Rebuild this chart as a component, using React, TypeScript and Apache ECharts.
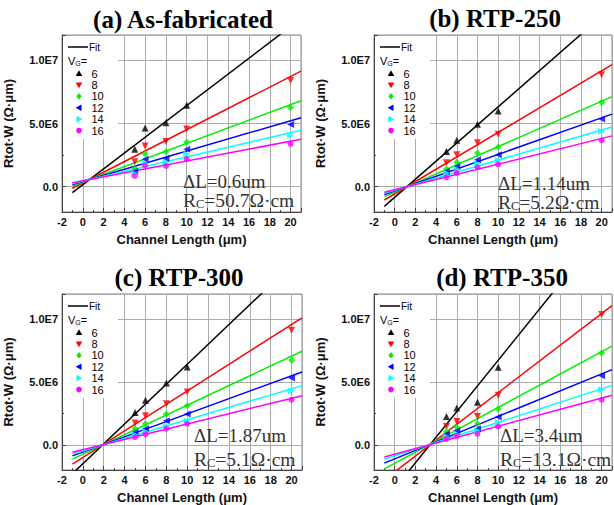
import React, { useEffect, useRef } from "react";
import * as echarts from "echarts";

const SANS = '"Liberation Sans", Arial, sans-serif';
const SERIF = '"Liberation Serif", "Times New Roman", serif';
const UNIT = 1e6;

// ---- data ----
const channelLength = [5, 6, 8, 10, 20];
const fitRange = [-1, 21];
const vgLabels = ["6", "8", "10", "12", "14", "16"];
const panelTitles = ["(a) As-fabricated", "(b) RTP-250", "(c) RTP-300", "(d) RTP-350"];
const deltaL = ["0.6", "1.14", "1.87", "3.4"];
const contactR = ["50.7", "5.2", "5.1", "13.1"];
const yTickValues = [0, 5e6, 1e7];
const yTickLabels = ["0.0", "5.0E6", "1.0E7"];

// values in units of 1e6 Ω·µm, one row per V_G (6, 8, 10, 12, 14, 16)
const asFabPoints = [
  [2.96, 4.65, 5.05, 6.45, null],
  [1.98, 3.22, 3.58, 4.57, 8.41],
  [1.45, 2.6, 2.77, 3.52, 6.26],
  [1.2, 2.17, 2.23, 2.96, 4.92],
  [1.04, 1.88, 1.96, 2.58, 4.03],
  [0.85, 1.68, 1.64, 2.18, 3.39],
];
const asFabFit = [
  [-0.47, 13.3],
  [-0.12, 9.14],
  [0.06, 6.8],
  [0.18, 5.46],
  [0.26, 4.46],
  [0.32, 3.76],
];
const rtp250Points = [
  [2.79, 3.67, 4.95, 5.98, null],
  [1.89, 2.53, 3.48, 4.15, 8.86],
  [1.41, 1.94, 2.66, 3.14, 6.68],
  [1.2, 1.6, 2.13, 2.53, 5.35],
  [1.09, 1.41, 1.81, 2.07, 4.39],
  [0.74, 1.09, 1.54, 1.76, 3.67],
];
const rtp250Fit = [
  [-1.55, 14.2],
  [-1.05, 9.65],
  [-0.78, 7.13],
  [-0.62, 5.74],
  [-0.51, 4.73],
  [-0.44, 4.02],
];
const rtp300Points = [
  [2.58, 3.54, 4.92, 6.2, null],
  [1.73, 2.31, 3.27, 4.2, 9.12],
  [1.28, 1.68, 2.45, 3.11, 6.73],
  [1.01, 1.28, 1.91, 2.45, 5.32],
  [0.8, 1.06, 1.46, 1.91, 4.31],
  [0.61, 0.85, 1.28, 1.68, 3.59],
];
const rtp300Fit = [
  [-2.29, 15.1],
  [-1.53, 10.1],
  [-1.13, 7.45],
  [-0.88, 5.8],
  [-0.72, 4.71],
  [-0.59, 3.91],
];
const rtp350Points = [
  [2.26, 2.93, 3.38, 6.17, null],
  [1.46, 1.86, 2.26, 3.94, 10.37],
  [1.06, 1.41, 1.68, 2.85, 7.31],
  [0.85, 1.12, 1.28, 2.21, 5.5],
  [0.66, 0.88, 1.12, 1.78, 4.39],
  [0.48, 0.72, 0.88, 1.46, 3.59],
];
const rtp350Fit = [
  [-4.49, 17.95],
  [-2.78, 11.08],
  [-1.91, 7.85],
  [-1.45, 5.98],
  [-1.15, 4.73],
  [-0.96, 3.94],
];

// ---- styling / layout ----
const colors = ["#000000", "#ff0000", "#00ee00", "#0000ff", "#00ffff", "#ff00ff"];
const symbols = ["triangle", "triangle", "diamond", "triangle", "triangle", "circle"];
const rotations = [0, 180, 0, 90, -90, 0];
const grids = [
  { left: 62, top: 35, width: 239, height: 177 },
  { left: 374, top: 35, width: 238, height: 177 },
  { left: 62, top: 294, width: 240, height: 177 },
  { left: 374, top: 294, width: 238, height: 177 },
];
const titlePos = [[183, 19], [495, 18], [179, 277], [502, 277]];
const notePos = [
  [183, 181.5, 199.5],
  [498, 183.3, 201.7],
  [194, 435, 458],
  [500, 435, 458],
];

const pointsByPanel = [asFabPoints, rtp250Points, rtp300Points, rtp350Points];
const fitByPanel = [asFabFit, rtp250Fit, rtp300Fit, rtp350Fit];

function legendSymbol(k: number, cx: number, cy: number, color: string): any {
  const s = 3.3;
  if (k === 5) return { type: "circle", shape: { cx, cy, r: 2.8 }, style: { fill: color }, z: 7 };
  let pts: number[][];
  if (k === 0) pts = [[cx, cy - s], [cx + s, cy + s * 0.75], [cx - s, cy + s * 0.75]];
  else if (k === 1) pts = [[cx, cy + s], [cx + s, cy - s * 0.75], [cx - s, cy - s * 0.75]];
  else if (k === 2) pts = [[cx, cy - s], [cx + s * 0.8, cy], [cx, cy + s], [cx - s * 0.8, cy]];
  else if (k === 3) pts = [[cx - s, cy], [cx + s * 0.75, cy - s], [cx + s * 0.75, cy + s]];
  else pts = [[cx + s, cy], [cx - s * 0.75, cy - s], [cx - s * 0.75, cy + s]];
  return { type: "polygon", shape: { points: pts }, style: { fill: color }, z: 7 };
}

function buildOption() {
  const xAxis: any[] = [];
  const yAxis: any[] = [];
  const series: any[] = [];
  const graphic: any[] = [];
  const labelStyle = { fontFamily: SANS, fontWeight: "bold", fontSize: 11, color: "#111" };
  const nameStyle = { fontFamily: SANS, fontWeight: "bold", fontSize: 13, color: "#111" };

  grids.forEach((g, i) => {
    xAxis.push({
      gridIndex: i,
      type: "value",
      min: -2,
      max: 21,
      interval: 2,
      axisLine: { show: true, onZero: false, lineStyle: { color: "#444", width: 1 } },
      axisTick: { show: true, inside: true, length: 4, lineStyle: { color: "#444" } },
      minorTick: { show: true, splitNumber: 2, length: 2, lineStyle: { color: "#444" } },
      splitLine: { show: true, lineStyle: { color: "#ababab", width: 1 } },
      axisLabel: { ...labelStyle, margin: 4, showMaxLabel: false, showMinLabel: true },
      name: "Channel Length (μm)",
      nameLocation: "middle",
      nameGap: 21,
      nameTextStyle: nameStyle,
    });
    yAxis.push({
      gridIndex: i,
      type: "value",
      min: -2e6,
      max: 1.2e7,
      splitNumber: 3,
      minInterval: 5e6,
      maxInterval: 5e6,
      axisLine: { show: true, onZero: false, lineStyle: { color: "#444", width: 1 } },
      axisTick: { show: true, inside: true, length: 4, lineStyle: { color: "#444" } },
      minorTick: { show: true, splitNumber: 2, length: 2, lineStyle: { color: "#444" } },
      splitLine: { show: true, lineStyle: { color: "#ababab", width: 1 } },
      axisLabel: {
        ...labelStyle,
        margin: 4,
        showMinLabel: false,
        showMaxLabel: false,
        formatter: (v: number) => {
          const idx = yTickValues.findIndex((t) => Math.abs(t - v) < 1);
          return idx >= 0 ? yTickLabels[idx] : "";
        },
      },
      name: "Rtot·W (Ω·μm)",
      nameLocation: "middle",
      nameGap: 47,
      nameTextStyle: nameStyle,
    });

    const pts = pointsByPanel[i];
    const fits = fitByPanel[i];
    vgLabels.forEach((vg, k) => {
      series.push({
        type: "line",
        name: "fit" + vg,
        xAxisIndex: i,
        yAxisIndex: i,
        data: fitRange.map((x, j) => [x, fits[k][j] * UNIT]),
        symbol: "none",
        showSymbol: false,
        clip: true,
        lineStyle: { color: colors[k], width: 1.5 },
        z: 2,
      });
      series.push({
        type: "scatter",
        name: vg,
        xAxisIndex: i,
        yAxisIndex: i,
        data: channelLength
          .map((x, j) => (pts[k][j] == null ? null : [x, (pts[k][j] as number) * UNIT]))
          .filter((d) => d !== null),
        symbol: symbols[k],
        symbolRotate: rotations[k],
        symbolSize: k === 5 ? 6 : 7,
        itemStyle: { color: colors[k] },
        z: 3,
      });
    });

    // title
    graphic.push({
      type: "text",
      x: titlePos[i][0],
      y: titlePos[i][1],
      z: 10,
      style: {
        text: panelTitles[i],
        font: `bold 25px ${SERIF}`,
        fill: "#000",
        textAlign: "center",
        textVerticalAlign: "middle",
        align: "center",
        verticalAlign: "middle",
      },
    });
    // annotations
    graphic.push({
      type: "text",
      x: notePos[i][0],
      y: notePos[i][1],
      z: 10,
      style: {
        text: `ΔL=${deltaL[i]}um`,
        font: `19px ${SERIF}`,
        fill: "#333",
        textAlign: "left",
        textVerticalAlign: "middle",
        align: "left",
        verticalAlign: "middle",
      },
    });
    graphic.push({
      type: "text",
      x: notePos[i][0],
      y: notePos[i][2],
      z: 10,
      style: {
        text: `{m|R}{s|C}{m|=${contactR[i]}Ω·cm}`,
        fill: "#333",
        textAlign: "left",
        textVerticalAlign: "middle",
        align: "left",
        verticalAlign: "middle",
        rich: {
          m: { fontFamily: SERIF, fontSize: 19.5, lineHeight: 22, verticalAlign: "bottom", fill: "#333", color: "#333" },
          s: { fontFamily: SERIF, fontSize: 12.5, lineHeight: 11, verticalAlign: "bottom", fill: "#333", color: "#333" },
        },
      },
    });

    // legend
    const gx = g.left;
    const gy = g.top;
    graphic.push({
      type: "rect",
      shape: { x: gx + 1, y: gy + 1, width: 55, height: 103 },
      style: { fill: "#ffffff" },
      z: 5,
    });
    graphic.push({
      type: "line",
      shape: { x1: gx + 6, y1: gy + 12, x2: gx + 26, y2: gy + 12 },
      style: { stroke: "#000", lineWidth: 1.5 },
      z: 7,
    });
    graphic.push({
      type: "text",
      x: gx + 27,
      y: gy + 12,
      z: 7,
      style: {
        text: "Fit",
        font: `10px ${SANS}`,
        fill: "#000",
        textVerticalAlign: "middle",
        verticalAlign: "middle",
      },
    });
    graphic.push({
      type: "text",
      x: gx + 6,
      y: gy + 25,
      z: 7,
      style: {
        text: "{m|V}{s|G}{m|=}",
        fill: "#000",
        textVerticalAlign: "middle",
        verticalAlign: "middle",
        rich: {
          m: { fontFamily: SANS, fontSize: 11, lineHeight: 13, verticalAlign: "bottom", fill: "#000", color: "#000" },
          s: { fontFamily: SANS, fontSize: 7, lineHeight: 6, verticalAlign: "bottom", fill: "#000", color: "#000" },
        },
      },
    });
    vgLabels.forEach((vg, k) => {
      const cy = gy + 38.5 + k * 11.4;
      graphic.push(legendSymbol(k, gx + 17, cy, colors[k]));
      graphic.push({
        type: "text",
        x: gx + 29.5,
        y: cy,
        z: 7,
        style: {
          text: vg,
          font: `11px ${SANS}`,
          fill: "#000",
          textVerticalAlign: "middle",
          verticalAlign: "middle",
        },
      });
    });
  });

  return {
    animation: false,
    backgroundColor: "#ffffff",
    grid: grids.map((g) => ({
      ...g,
      show: true,
      borderColor: "#888",
      borderWidth: 1,
      backgroundColor: "transparent",
      containLabel: false,
    })),
    xAxis,
    yAxis,
    series,
    graphic,
  };
}

export default function App() {
  const ref = useRef<HTMLDivElement>(null);
  useEffect(() => {
    if (!ref.current) return;
    const chart = echarts.init(ref.current, undefined, { renderer: "svg" });
    chart.setOption(buildOption() as any);
    return () => chart.dispose();
  }, []);
  return (
    <div
      ref={ref}
      style={{ position: "fixed", left: 0, top: 0, width: 614, height: 505, background: "#fff" }}
    />
  );
}
